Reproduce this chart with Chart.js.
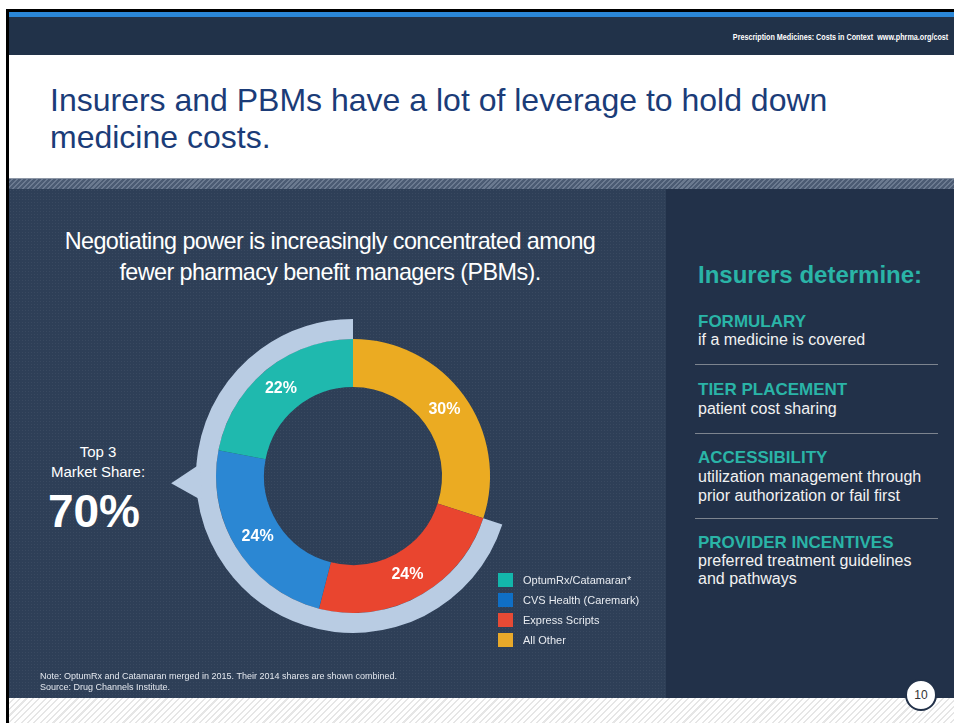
<!DOCTYPE html>
<html>
<head>
<meta charset="utf-8">
<script src="https://cdn.jsdelivr.net/npm/chart.js@4.4.1/dist/chart.umd.min.js"></script>
<style>
  html, body { margin: 0; padding: 0; }
  body { width: 954px; height: 723px; position: relative; overflow: hidden; background: #ffffff;
         font-family: Arial, "Liberation Sans", Helvetica, sans-serif; }
  .abs { position: absolute; }
  #chartCanvas { position: absolute; left: 153px; top: 276px; }
</style>
</head>
<body>
<script>
// ---------- DATA ----------
const categories = ['All Other', 'Express Scripts', 'CVS Health (Caremark)', 'OptumRx/Catamaran*'];
const shares = [30, 24, 24, 22];
const sliceColors = ['#ebab22', '#e9452f', '#2b87d3', '#1fb9ae'];
const legendColors = ['#e8a92a', '#e64a35', '#0f6fc6', '#13b6ab'];
const legendOrder = [3, 2, 1, 0];
const top3Share = 70;
const top3Label = '70%';
const highlightColor = '#b9cce3';
</script>

<!-- frame -->
<div class="abs" style="left:6px;top:9px;width:948px;height:3px;background:#000;"></div>
<div class="abs" style="left:6px;top:9px;width:3px;height:714px;background:#000;"></div>
<div class="abs" style="left:9px;top:12px;width:945px;height:5px;background:#2b87d7;"></div>
<div class="abs" style="left:9px;top:17px;width:945px;height:38px;background:#213249;"></div>
<div class="abs" style="right:6px;top:31px;font-size:9px;line-height:12px;font-weight:bold;color:#ffffff;white-space:nowrap;transform:scaleX(0.8);transform-origin:right center;">Prescription Medicines: Costs in Context&nbsp; www.phrma.org/cost</div>

<!-- title -->
<div class="abs" style="left:50px;top:82px;font-size:32px;line-height:37px;color:#1b3c78;white-space:nowrap;">Insurers and PBMs have a lot of leverage to hold down<br>medicine costs.</div>

<!-- hatched strip -->
<div class="abs" style="left:9px;top:178px;width:945px;height:11px;background-color:#4b5b73;background-image:repeating-linear-gradient(135deg, #4b5b73 0px, #4b5b73 2px, #6b7a90 2px, #6b7a90 3.5px);border-top:1px solid #8d97a6;box-sizing:border-box;"></div>

<!-- panels -->
<div class="abs" style="left:9px;top:189px;width:657px;height:509px;background-color:#2e3f57;background-image:radial-gradient(rgba(255,255,255,0.05) 0.8px, transparent 0.9px);background-size:3px 3px;"></div>
<div class="abs" style="left:666px;top:189px;width:288px;height:509px;background:#223149;"></div>

<!-- bottom hatched -->
<div class="abs" style="left:9px;top:698px;width:945px;height:25px;background-color:#ffffff;background-image:repeating-linear-gradient(135deg, #ffffff 0px, #ffffff 3px, #e6e6e6 3px, #e6e6e6 4.5px);"></div>

<!-- subtitle -->
<div class="abs" style="left:0px;width:660px;top:226px;font-size:23.4px;line-height:31px;color:#ffffff;text-align:center;letter-spacing:-0.6px;">Negotiating power is increasingly concentrated among<br>fewer pharmacy benefit managers (PBMs).</div>

<!-- top 3 -->
<div class="abs" style="left:38px;width:120px;top:442px;font-size:15px;line-height:20px;color:#ffffff;text-align:center;">Top 3<br>Market Share:</div>
<div id="top3" class="abs" style="left:34px;width:120px;top:486px;font-size:46px;line-height:50px;font-weight:bold;color:#ffffff;text-align:center;"></div>

<canvas id="chartCanvas" width="400" height="400"></canvas>

<div id="legend" class="abs" style="left:498px;top:570px;"></div>

<!-- note -->
<div class="abs" style="left:40px;top:671px;font-size:9px;line-height:11px;color:#e3e7ee;white-space:nowrap;">Note: OptumRx and Catamaran merged in 2015. Their 2014 shares are shown combined.<br>Source: Drug Channels Institute.</div>

<!-- right panel -->
<div class="abs" style="left:698px;top:261px;font-size:24px;line-height:28px;font-weight:bold;color:#2ab4a7;white-space:nowrap;">Insurers determine:</div>

<div class="abs" style="left:698px;top:312px;font-size:17px;line-height:19px;font-weight:bold;color:#2ab4a7;">FORMULARY</div>
<div class="abs" style="left:698px;top:330px;font-size:16px;line-height:19px;color:#f2f2f2;white-space:nowrap;">if a medicine is covered</div>
<div class="abs" style="left:695px;top:364px;width:243px;height:1px;background:#7d848f;"></div>

<div class="abs" style="left:698px;top:380px;font-size:17px;line-height:19px;font-weight:bold;color:#2ab4a7;">TIER PLACEMENT</div>
<div class="abs" style="left:698px;top:399px;font-size:16px;line-height:19px;color:#f2f2f2;white-space:nowrap;">patient cost sharing</div>
<div class="abs" style="left:695px;top:433px;width:243px;height:1px;background:#7d848f;"></div>

<div class="abs" style="left:698px;top:448px;font-size:17px;line-height:19px;font-weight:bold;color:#2ab4a7;">ACCESSIBILITY</div>
<div class="abs" style="left:698px;top:467px;font-size:16px;line-height:19px;color:#f2f2f2;white-space:nowrap;">utilization management through<br>prior authorization or fail first</div>
<div class="abs" style="left:695px;top:518px;width:243px;height:1px;background:#7d848f;"></div>

<div class="abs" style="left:698px;top:533px;font-size:17px;line-height:19px;font-weight:bold;color:#2ab4a7;white-space:nowrap;">PROVIDER INCENTIVES</div>
<div class="abs" style="left:698px;top:552px;font-size:16px;line-height:18px;color:#f2f2f2;white-space:nowrap;">preferred treatment guidelines<br>and pathways</div>

<!-- page number -->
<div class="abs" style="left:905px;top:679px;width:32px;height:32px;border-radius:50%;background:#ffffff;border:2px solid #223149;box-sizing:border-box;text-align:center;font-size:12px;line-height:28px;color:#333;">10</div>

<script>
document.getElementById('top3').textContent = top3Label;

// legend built from the data arrays
const legendEl = document.getElementById('legend');
legendOrder.forEach((idx, row) => {
  const r = document.createElement('div');
  r.style.cssText = 'position:absolute;left:0;top:' + (row * 20) + 'px;white-space:nowrap;height:20px;';
  const sw = document.createElement('div');
  sw.style.cssText = 'position:absolute;left:0;top:3px;width:15px;height:14px;background:' + legendColors[idx] + ';';
  const tx = document.createElement('div');
  tx.style.cssText = 'position:absolute;left:25px;top:0;font-size:11px;line-height:20px;color:#e8ebf0;';
  tx.textContent = categories[idx];
  r.appendChild(sw); r.appendChild(tx);
  legendEl.appendChild(r);
});

const pointerPlugin = {
  id: 'pointer',
  afterDatasetsDraw(chart) {
    const meta = chart.getDatasetMeta(0);
    const arc = meta.data[1];
    if (!arc) return;
    const p = arc.getProps(['x', 'y', 'outerRadius'], true);
    const ctx = chart.ctx;
    const base = Math.PI - 0.04;   // pointing left, slightly down
    const half = 0.12;
    const rb = p.outerRadius - 4;
    const rt = p.outerRadius + 25;
    ctx.save();
    ctx.fillStyle = highlightColor;
    ctx.beginPath();
    ctx.moveTo(p.x + rb * Math.cos(base - half), p.y + rb * Math.sin(base - half));
    ctx.lineTo(p.x + rt * Math.cos(base), p.y + rt * Math.sin(base));
    ctx.lineTo(p.x + rb * Math.cos(base + half), p.y + rb * Math.sin(base + half));
    ctx.closePath();
    ctx.fill();
    ctx.restore();
  }
};

const labelPlugin = {
  id: 'sliceLabels',
  afterDatasetsDraw(chart) {
    const meta = chart.getDatasetMeta(1);
    const ctx = chart.ctx;
    ctx.save();
    ctx.fillStyle = '#ffffff';
    ctx.font = 'bold 16px Arial, "Liberation Sans", sans-serif';
    ctx.textAlign = 'center';
    ctx.textBaseline = 'middle';
    meta.data.forEach((arc, i) => {
      const pos = arc.tooltipPosition(true);
      ctx.fillText(shares[i] + '%', pos.x, pos.y);
    });
    ctx.restore();
  }
};

new Chart(document.getElementById('chartCanvas'), {
  type: 'doughnut',
  data: {
    labels: categories,
    datasets: [
      {
        label: 'Top 3',
        data: [shares[0], top3Share],
        backgroundColor: ['rgba(0,0,0,0)', highlightColor],
        borderWidth: 0,
        weight: 20
      },
      {
        label: 'Market share',
        data: shares,
        backgroundColor: sliceColors,
        borderWidth: 0,
        weight: 48
      }
    ]
  },
  options: {
    responsive: false,
    animation: false,
    events: [],
    cutout: 89,
    layout: { padding: 43 },
    plugins: { legend: { display: false }, tooltip: { enabled: false } }
  },
  plugins: [pointerPlugin, labelPlugin]
});
</script>
</body>
</html>
